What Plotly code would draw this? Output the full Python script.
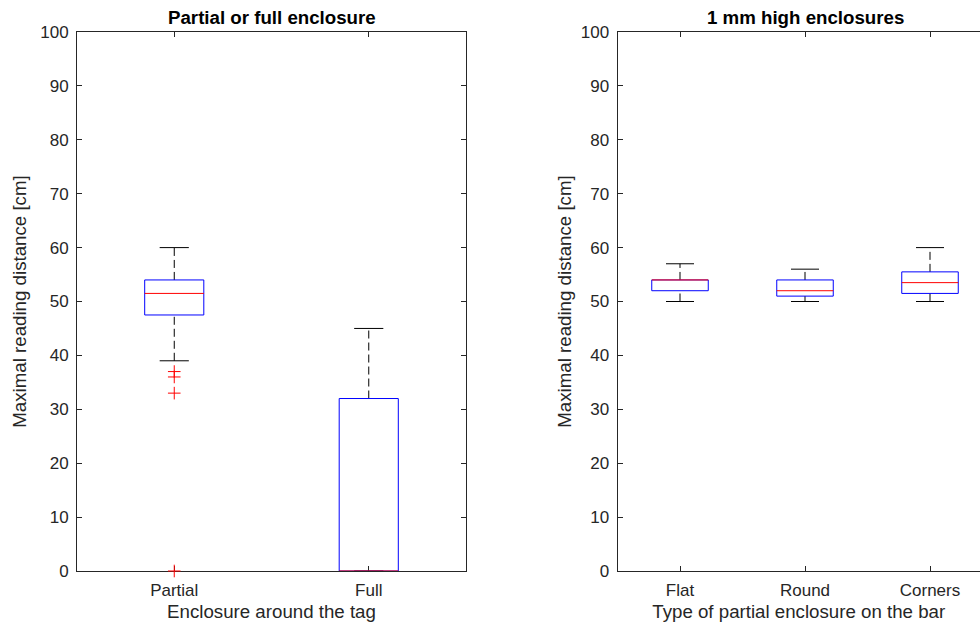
import plotly.graph_objects as go

# ---- data: maximal reading distance [cm] summary statistics ----
left_groups = ["Partial", "Full"]
left_q1 = [47.5, 0]
left_median = [51.5, 0]
left_q3 = [54, 32]
left_low = [39, 0]
left_high = [60, 45]
left_outliers = [[37, 36, 33, 0], []]

right_groups = ["Flat", "Round", "Corners"]
right_q1 = [52, 51, 51.5]
right_median = [54, 52, 53.5]
right_q3 = [54, 54, 55.5]
right_low = [50, 50, 50]
right_high = [57, 56, 60]
right_outliers = [[], [], []]

y_ticks = list(range(0, 101, 10))

BOX_BLUE = "#0000ff"
MED_RED = "#ff0000"
WHISK = "#000000"
TXT = "#262626"
FONT = "Liberation Sans, Arial, sans-serif"
TICK_SIZE = 17
LABEL_SIZE = 18.7

fig = go.Figure()


def add_boxes(groups, q1, med, q3, lo, hi, outl, xa, ya, half_w, cap_w):
    for i, name in enumerate(groups):
        c = i + 1
        common = dict(xaxis=xa, yaxis=ya, mode="lines", showlegend=False,
                      hoverinfo="skip", cliponaxis=False)
        # dashed whiskers
        fig.add_trace(go.Scatter(x=[c, c], y=[q3[i], hi[i]],
                                 line=dict(color=WHISK, width=1, dash="8px,4px"), **common))
        fig.add_trace(go.Scatter(x=[c, c], y=[lo[i], q1[i]],
                                 line=dict(color=WHISK, width=1, dash="8px,4px"), **common))
        # whisker caps
        fig.add_trace(go.Scatter(x=[c - cap_w, c + cap_w], y=[hi[i], hi[i]],
                                 line=dict(color=WHISK, width=1), **common))
        fig.add_trace(go.Scatter(x=[c - cap_w, c + cap_w], y=[lo[i], lo[i]],
                                 line=dict(color=WHISK, width=1), **common))
        # box
        fig.add_trace(go.Scatter(x=[c - half_w, c + half_w, c + half_w, c - half_w, c - half_w],
                                 y=[q1[i], q1[i], q3[i], q3[i], q1[i]],
                                 line=dict(color=BOX_BLUE, width=1), **common))
        # median
        fig.add_trace(go.Scatter(x=[c - half_w, c + half_w], y=[med[i], med[i]],
                                 line=dict(color=MED_RED, width=1), **common))
        # outliers
        if outl[i]:
            fig.add_trace(go.Scatter(x=[c] * len(outl[i]), y=outl[i], mode="markers",
                                     xaxis=xa, yaxis=ya, showlegend=False, hoverinfo="skip",
                                     cliponaxis=False,
                                     marker=dict(symbol="cross-thin", size=9,
                                                 line=dict(color=MED_RED, width=1))))


add_boxes(left_groups, left_q1, left_median, left_q3, left_low, left_high, left_outliers,
          "x", "y", 0.152, 0.075)
add_boxes(right_groups, right_q1, right_median, right_q3, right_low, right_high, right_outliers,
          "x2", "y2", 0.226, 0.112)

axis_common = dict(showline=True, linecolor=TXT, linewidth=1, ticks="inside", ticklen=5,
                   tickcolor=TXT, tickwidth=1, showgrid=False, zeroline=False,
                   tickfont=dict(family=FONT, size=TICK_SIZE, color=TXT),
                   layer="below traces")
label_font = dict(size=LABEL_SIZE, family=FONT, color=TXT)

fig.update_layout(
    width=980, height=628,
    margin=dict(l=77, r=0, t=32, b=57),
    paper_bgcolor="white", plot_bgcolor="white",
    font=dict(family=FONT, color=TXT),
    xaxis=dict(domain=[0, 389 / 903], range=[0.5, 2.5], tickvals=[1, 2],
               ticktext=left_groups, mirror="ticks", anchor="y", ticklabelstandoff=4,
               title=dict(text="Enclosure around the tag", font=label_font, standoff=5),
               **axis_common),
    yaxis=dict(domain=[0, 1], range=[0, 100], tickvals=y_ticks, mirror="ticks", anchor="x",
               ticklabelstandoff=4,
               title=dict(text="Maximal reading distance [cm]", font=label_font, standoff=8),
               **axis_common),
    xaxis2=dict(domain=[540.5 / 903, 1], range=[0.5, 0.5 + 362.5 / 125], tickvals=[1, 2, 3],
                ticktext=right_groups, mirror="ticks", anchor="y2", ticklabelstandoff=4,
                title=dict(text="Type of partial enclosure on the bar", font=label_font,
                           standoff=5),
                **axis_common),
    yaxis2=dict(domain=[0, 1], range=[0, 100], tickvals=y_ticks, mirror=False, anchor="x2",
                ticklabelstandoff=4,
                title=dict(text="Maximal reading distance [cm]", font=label_font, standoff=4),
                **axis_common),
    annotations=[
        dict(text="<b>Partial or full enclosure</b>", xref="x", x=1.5, yref="paper", y=1,
             yanchor="middle", yshift=15, showarrow=False,
             font=dict(family=FONT, size=LABEL_SIZE, color="#000000")),
        dict(text="<b>1 mm high enclosures</b>", xref="x2", x=2, yref="paper", y=1,
             yanchor="middle", yshift=15, showarrow=False,
             font=dict(family=FONT, size=LABEL_SIZE, color="#000000")),
    ],
)

fig.write_html("out.html")
